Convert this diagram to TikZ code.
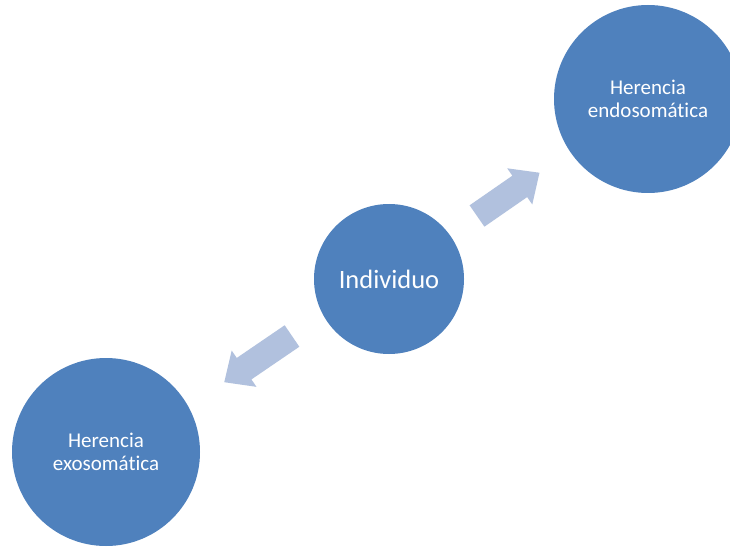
\documentclass[tikz,border=0pt]{standalone}
\usepackage{fontspec}
\setmainfont{Carlito}[RawFeature=-liga]
\definecolor{discblue}{HTML}{4F81BD}
\definecolor{arrowblue}{HTML}{B1C1DE}
\tikzset{
  disc/.style={circle, fill=discblue, draw=none, text=white, align=center, inner sep=0pt},
  blockarrow/.style={fill=arrowblue, draw=none}
}
% block arrow pointing along +x from the origin, total length #1
\newcommand{\blockarrowpath}[1]{(0,-13) -- ({#1-24},-13) -- ({#1-24},-22) -- (#1,0) -- ({#1-24},22) -- ({#1-24},13) -- (0,13) -- cycle}
\begin{document}
\begin{tikzpicture}[x=1pt,y=1pt]
  \clip (0,0) rectangle (730,547);
  \fill[white] (0,0) rectangle (730,547);

  \node[disc, minimum size=150pt, font=\fontsize{26.5}{31}\selectfont] (ind) at (389,268) {Individuo};
  \node[disc, minimum size=188pt, font=\fontsize{21}{23.5}\selectfont] (endo) at (648,448) {Herencia\\endosomática};
  \node[disc, minimum size=188pt, font=\fontsize{21}{23.5}\selectfont] (exo) at (106,95) {Herencia\\exosomática};

  \coordinate (upTail) at (477,331);
  \coordinate (downTail) at (292,211);
  \begin{scope}[shift={(upTail)}, rotate=34.7]
    \fill[blockarrow] \blockarrowpath{76};
  \end{scope}
  \begin{scope}[shift={(downTail)}, rotate=214.3]
    \fill[blockarrow] \blockarrowpath{82};
  \end{scope}
\end{tikzpicture}
\end{document}
